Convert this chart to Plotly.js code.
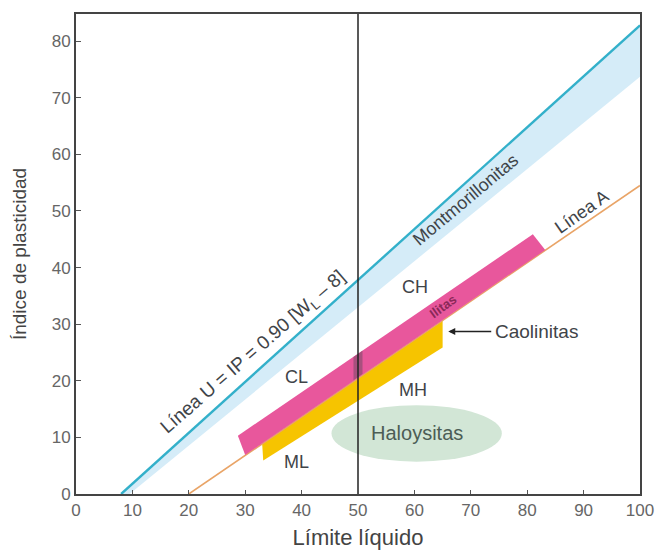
<!DOCTYPE html>
<html>
<head>
<meta charset="utf-8">
<script src="https://cdn.plot.ly/plotly-3.0.1.min.js"></script>
<style>html,body{margin:0;padding:0;background:#fff;}#chart{width:658px;height:554px;}</style>
</head>
<body>
<div id="chart"></div>
<script>
// Data
const xTickVals = [0,10,20,30,40,50,60,70,80,90,100];
const yTickVals = [0,10,20,30,40,50,60,70,80];

const uLineX = [8, 100];
const uLineY = [0, 82.8];
const aLineX = [20, 100];
const aLineY = [0, 54.5];

const montBandX = [8, 100, 100, 9.5];
const montBandY = [0, 82.8, 73.7, 0];

const ilitaX = [28.7, 81.0, 83.2, 30.0];
const ilitaY = [10.3, 45.9, 43.1, 6.9];

const caolX = [33.0, 65.0, 65.0, 33.2];
const caolY = [8.9, 30.6, 25.9, 5.9];

const haloX = [45.3, 75.5];
const haloY = [5.7, 15.7];

const limitX = [50, 50];
const limitY = [0, 84.8];

// darker overlap patch where the x=50 line crosses the illite band
const overlapX = [49.2, 50.8, 50.8, 49.2];
const overlapY = [20.1, 21.2, 25.3, 24.2];

const zoneLabels = ["CL", "CH", "MH", "ML"];
const zoneX = [39.1, 60.1, 59.8, 39.1];
const zoneY = [20.7, 36.6, 18.4, 5.6];

const FONT = "Liberation Sans, Arial, sans-serif";
const TXT = '#3f4448';

const traces = [
  {x: montBandX, y: montBandY, fill: 'toself', fillcolor: '#d5ecf8', line: {width: 0}, mode: 'lines', hoverinfo: 'skip', showlegend: false},
  {x: caolX, y: caolY, fill: 'toself', fillcolor: '#f6c400', line: {width: 0}, mode: 'lines', hoverinfo: 'skip', showlegend: false},
  {x: aLineX, y: aLineY, mode: 'lines', line: {color: '#e9a467', width: 1.6}, hoverinfo: 'skip', showlegend: false},
  {x: ilitaX, y: ilitaY, fill: 'toself', fillcolor: '#e8579c', line: {width: 0}, mode: 'lines', hoverinfo: 'skip', showlegend: false},
  {x: overlapX, y: overlapY, fill: 'toself', fillcolor: '#a8507e', line: {width: 0}, mode: 'lines', hoverinfo: 'skip', showlegend: false},
  {x: uLineX, y: uLineY, mode: 'lines', line: {color: '#33b0ca', width: 2.4}, hoverinfo: 'skip', showlegend: false},
  {x: limitX, y: limitY, mode: 'lines', line: {color: '#222', width: 1.5}, hoverinfo: 'skip', showlegend: false, cliponaxis: false}
];

const annotations = zoneLabels.map((t, i) => ({
  x: zoneX[i], y: zoneY[i], text: t, showarrow: false,
  font: {family: FONT, size: 18, color: TXT}
}));

annotations.push(
  {x: 60.4, y: 10.7, text: 'Haloysitas', showarrow: false, font: {family: FONT, size: 20, color: '#4c5d55'}},
  {x: 66.0, y: 28.7, ax: 81.6, ay: 28.7, axref: 'x', ayref: 'y', text: 'Caolinitas', showarrow: true,
   arrowhead: 2, arrowsize: 1, arrowwidth: 1.4, arrowcolor: '#222', standoff: 0, startstandoff: 2,
   font: {family: FONT, size: 19, color: TXT}},
  {x: 65.0, y: 33.2, text: '<b>Ilitas</b>', showarrow: false, textangle: -36, font: {family: FONT, size: 13, color: '#8a2858'}},
  {x: 69.0, y: 52.0, text: 'Montmorillonitas', showarrow: false, textangle: -40, font: {family: FONT, size: 18, color: TXT}},
  {x: 89.6, y: 49.9, text: 'Línea A', showarrow: false, textangle: -35, font: {family: FONT, size: 18, color: TXT}},
  {x: 31.4, y: 24.9, text: 'Línea U = IP = 0.90 [W<sub>L</sub> – 8]', showarrow: false, textangle: -41, font: {family: FONT, size: 19, color: TXT}}
);

const layout = {
  width: 658, height: 554,
  margin: {l: 76, r: 18, t: 14, b: 60},
  paper_bgcolor: '#fff', plot_bgcolor: '#fff',
  xaxis: {
    range: [0, 100], tickvals: xTickVals, showgrid: false, zeroline: false,
    showline: true, linecolor: '#444', linewidth: 2, mirror: true,
    ticks: 'inside', ticklen: 4, tickcolor: '#555',
    tickfont: {family: FONT, size: 17, color: '#666'},
    title: {text: 'Límite líquido', font: {family: FONT, size: 22, color: '#444'}, standoff: 10}
  },
  yaxis: {
    range: [0, 84.8], tickvals: yTickVals, showgrid: false, zeroline: false,
    showline: true, linecolor: '#444', linewidth: 2, mirror: true,
    ticks: 'inside', ticklen: 5, tickcolor: '#555',
    tickfont: {family: FONT, size: 17, color: '#666'},
    title: {text: 'Índice de plasticidad', font: {family: FONT, size: 19, color: '#444'}, standoff: 20}
  },
  shapes: [
    {type: 'circle', xref: 'x', yref: 'y', x0: haloX[0], x1: haloX[1], y0: haloY[0], y1: haloY[1],
     fillcolor: '#d2e6d6', line: {width: 0}, layer: 'below'}
  ],
  annotations: annotations
};

Plotly.newPlot('chart', traces, layout, {displayModeBar: false, staticPlot: true});
</script>
</body>
</html>
